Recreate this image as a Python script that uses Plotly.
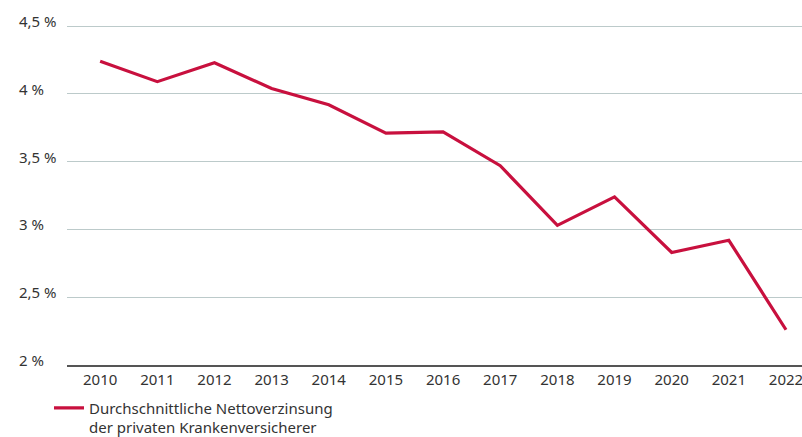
import plotly.graph_objects as go

years = ["2010", "2011", "2012", "2013", "2014", "2015", "2016",
         "2017", "2018", "2019", "2020", "2021", "2022"]
nettoverzinsung = [4.24, 4.09, 4.23, 4.04, 3.92, 3.71, 3.72,
                   3.47, 3.03, 3.24, 2.83, 2.92, 2.26]
y_ticks = [2.0, 2.5, 3.0, 3.5, 4.0, 4.5]
y_tick_labels = ["2 %", "2,5 %", "3 %", "3,5 %", "4 %", "4,5 %"]

font = "Noto Sans, Open Sans, sans-serif"
red = "#c8103e"

fig = go.Figure()
fig.add_trace(go.Scatter(
    x=years, y=nettoverzinsung, mode="lines",
    name="Durchschnittliche Nettoverzinsung<br>der privaten Krankenversicherer",
    line=dict(color=red, width=3.2),
    showlegend=True
))

# left-aligned y tick labels
for v, t in zip(y_ticks, y_tick_labels):
    fig.add_annotation(x=0, xref="paper", xshift=-50, y=v, yref="y", text=t,
                       showarrow=False, xanchor="left", yanchor="middle",
                       yshift=5,
                       font=dict(family=font, size=15, color="#333333"))

fig.update_layout(
    width=802, height=437,
    margin=dict(l=67, r=0, t=22, b=72),
    plot_bgcolor="white", paper_bgcolor="white",
    font=dict(family=font, size=15, color="#333333"),
    showlegend=True,
    legend=dict(orientation="h", x=-0.0245, xanchor="left",
                yref="container", y=0.104, yanchor="top", valign="top",
                font=dict(size=15, color="#333333"), bgcolor="rgba(0,0,0,0)",
                itemwidth=30),
    xaxis=dict(type="category", range=[-0.58, 12.28], showgrid=False,
               showline=True, linecolor="#555555", linewidth=2,
               ticks="", tickfont=dict(size=15)),
    yaxis=dict(range=[2.0, 4.53], tickvals=y_ticks, showticklabels=False,
               gridcolor="#bccaca", gridwidth=1, zeroline=False,
               showline=False),
)

fig.write_html("out.html", config={"displayModeBar": False},
               post_script="document.body.style.margin='0';")
